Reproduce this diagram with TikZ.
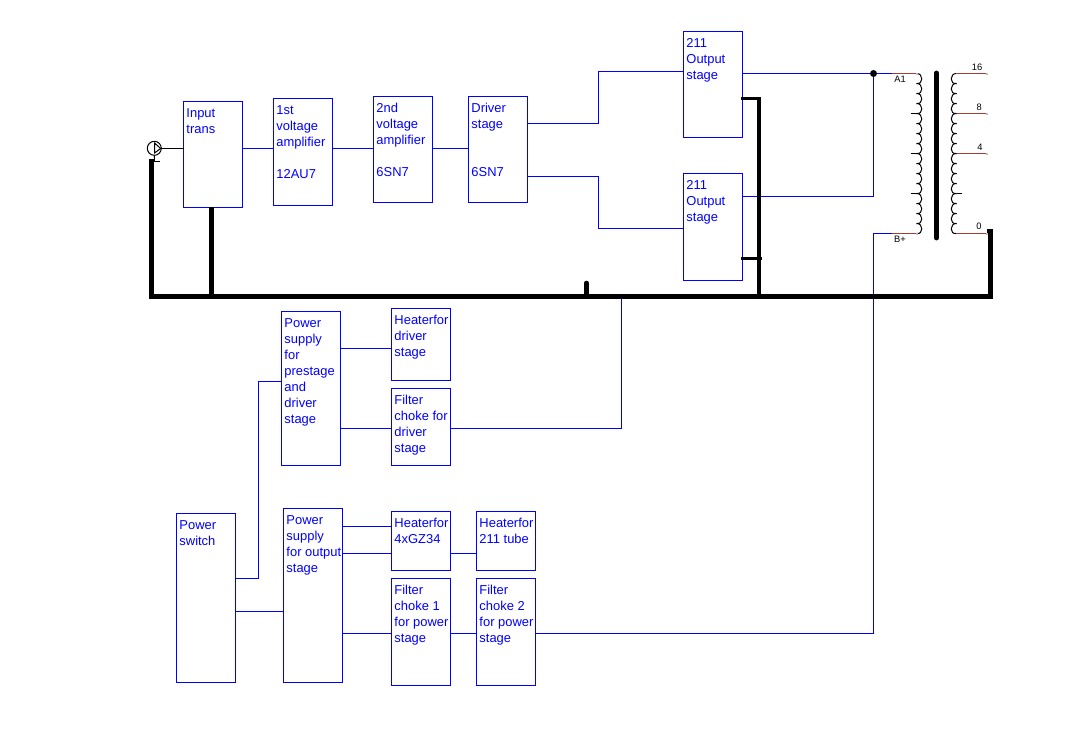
\documentclass[tikz,border=0pt]{standalone}
\usepackage{fontspec}
\setmainfont{Liberation Sans}
\usetikzlibrary{calc}
\definecolor{wireblue}{RGB}{0,0,255}
\definecolor{leadred}{RGB}{170,60,50}
\tikzset{
  x=0.75pt,y=-0.75pt,
  blk/.style={draw=wireblue,line width=0.75pt,fill=none,inner sep=0pt,outer sep=0pt,anchor=north west},
  txt/.style={text=wireblue,inner sep=0pt,anchor=north west,align=left,font=\fontsize{9.7}{12}\selectfont},
  sigline/.style={color=wireblue,line width=1pt},
  bus/.style={color=black,line width=3.4pt},
  branch/.style={color=black,line width=2.6pt},
  thinblk/.style={color=black,line width=0.75pt},
  redlead/.style={color=leadred,line width=1pt},
  small/.style={inner sep=0pt,font=\fontsize{7}{8}\selectfont,text=black},
}
\newcommand{\blockat}[6]{% name, x1, y1, x2, y2, text
  \pgfmathsetmacro{\bw}{(#4-#2+1)*0.75}\pgfmathsetmacro{\bh}{(#5-#3)*0.75}
  \node[blk,minimum width=\bw pt,minimum height=\bh pt] (#1) at (#2-0.5,#3+0.5) {};
  \node[txt] (#1-t) at (#2+2.2,#3+7) {#6};
}
\begin{document}
\begin{tikzpicture}
\useasboundingbox (0,0) rectangle (1088,736);
\fill[white] (0,0) rectangle (1088,736);
% blocks
\blockat{in}{184}{101}{242}{207}{Input\\trans}
\blockat{va}{274}{98}{332}{205}{1st\\voltage\\amplifier\\\\12AU7}
\blockat{vb}{374}{96}{432}{202}{2nd\\voltage\\amplifier\\\\6SN7}
\blockat{dr}{469}{96}{527}{202}{Driver\\stage\\\\\\6SN7}
\blockat{ot}{684}{31}{742}{137}{211\\Output\\stage}
\blockat{ob}{684}{173}{742}{280}{211\\Output\\stage}
\blockat{pp}{282}{311}{340}{465}{Power\\supply\\for\\prestage\\and\\driver\\stage}
\blockat{hd}{392}{308}{450}{380}{Heaterfor\\driver\\stage}
\blockat{fd}{392}{388}{450}{465}{Filter\\choke for\\driver\\stage}
\blockat{sw}{177}{513}{235}{682}{Power\\switch}
\blockat{po}{284}{508}{342}{682}{Power\\supply\\for output\\stage}
\blockat{hg}{392}{511}{450}{570}{Heaterfor\\4xGZ34}
\blockat{ht}{477}{511}{535}{570}{Heaterfor\\211 tube}
\blockat{fa}{392}{578}{450}{685}{Filter\\choke 1\\for power\\stage}
\blockat{fb}{477}{578}{535}{685}{Filter\\choke 2\\for power\\stage}
% transformer reference points
\coordinate (a1) at (916.5,73.5);
\coordinate (bp) at (916.5,233.5);
\coordinate (s16) at (956.5,73.5);
\coordinate (s8) at (956.5,113.5);
\coordinate (s4) at (956.5,153.5);
\coordinate (s0) at (956.5,233.5);
\coordinate (t16) at (986.5,73.5);
\coordinate (t8) at (986.5,113.5);
\coordinate (t4) at (986.5,153.5);
\coordinate (t0) at (986.5,233.5);
\coordinate (a1w) at (892,73.5);
\coordinate (bpw) at (892,233.5);
\coordinate (jn) at (873.5,73.5);
% signal wires
\draw[sigline] (in.east |- 0,148.5) -- (va.west |- 0,148.5);
\draw[sigline] (va.east |- 0,148.5) -- (vb.west |- 0,148.5);
\draw[sigline] (vb.east |- 0,148.5) -- (dr.west |- 0,148.5);
\draw[sigline] (dr.east |- 0,123.5) -| (598.5,71.5) -- (ot.west |- 0,71.5);
\draw[sigline] (dr.east |- 0,176.5) -| (598.5,228.5) -- (ob.west |- 0,228.5);
\draw[sigline] (ot.east |- 0,73.5) -- (a1w);
\draw[sigline] (ob.east |- 0,196.5) -| (jn);
\draw[sigline] (fb.east |- 0,633.5) -| (873.5,233.5) -- (bpw);
\fill (jn) circle (2.6pt);
% supply wires
\draw[sigline] (pp.east |- 0,348.5) -- (hd.west |- 0,348.5);
\draw[sigline] (pp.east |- 0,428.5) -- (fd.west |- 0,428.5);
\coordinate (busd) at (621.5,296);
\draw[sigline] (fd.east |- 0,428.5) -| (busd);
\draw[sigline] (sw.east |- 0,578.5) -| (258.5,381.5) -- (pp.west |- 0,381.5);
\draw[sigline] (sw.east |- 0,611.5) -- (po.west |- 0,611.5);
\draw[sigline] (po.east |- 0,526.5) -- (hg.west |- 0,526.5);
\draw[sigline] (po.east |- 0,553.5) -- (hg.west |- 0,553.5);
\draw[sigline] (hg.east |- 0,553.5) -- (ht.west |- 0,553.5);
\draw[sigline] (po.east |- 0,633.5) -- (fa.west |- 0,633.5);
\draw[sigline] (fa.east |- 0,633.5) -- (fb.west |- 0,633.5);
% ground bus
\coordinate (gl) at (149,296.5);
\coordinate (gr) at (993,296.5);
\draw[bus] (gl) -- (gr);
\draw[bus] (151.5,159) -- (151.5,298);
\draw[bus] (211.3,207) -- (211.3,296);
\draw[bus,line cap=round] (586.5,283) -- (586.5,296);
\draw[bus] (758.8,299) -- (758.8,96.8);
\draw[branch] (741,98.3) -- (761,98.3);
\draw[branch] (741,258.3) -- (761.7,258.3);
\draw[bus] (990.7,231) -- (990.7,298);
\fill[black] (987,229) rectangle (993,233);
% input jack
\node[circle,draw=black,line width=0.75pt,minimum size=10.5pt,inner sep=0pt,outer sep=0pt,fill=white] (jack) at (154.3,148.3) {};
\draw[thinblk] (154.5,143) -- (160.7,148.5) -- (154.5,153) -- cycle;
\draw[thinblk] (160.7,148.5) -- (in.west |- 0,148.5);
\draw[thinblk] (jack.south) -- (154.5,161.5);
\draw[thinblk] (151,161.5) -- (160,161.5);
% transformer windings
\foreach \i in {0,...,15}{
  \pgfmathsetmacro{\ya}{73.5+10*\i}\pgfmathsetmacro{\yb}{83.5+10*\i}
  \draw[thinblk] (916.5,\ya) .. controls (923.5,\ya-0.5) and (923.5,\yb+1.5) .. (916.5,\yb);
  \draw[thinblk] (956.5,\ya) .. controls (949.5,\ya-0.5) and (949.5,\yb+1.5) .. (956.5,\yb);
}
\draw[thinblk] (911,113.5) -- (916.5,113.5);
\draw[thinblk] (911,153.5) -- (916.5,153.5);
\draw[thinblk] (911,193.5) -- (916.5,193.5);
\draw[thinblk] (956.5,193.5) -- (961.5,193.5);
\draw[black,line width=3.6pt,line cap=round] (936.3,73) -- (936.3,238);
\draw[redlead] (a1w) -- (a1);
\draw[redlead] (bpw) -- (bp);
\draw[redlead] (s16) -- (t16);
\draw[redlead] (s8) -- (t8);
\draw[redlead] (s4) -- (t4);
\draw[redlead] (s0) -- (t0);
\foreach \c in {a1,bp,t16,t8,t4,t0}{\fill[black!25] ($(\c)+(-1,-1)$) rectangle ($(\c)+(1,1)$);}
\node[small] (la1) at (900,79) {A1};
\node[small] (lbp) at (900,239) {B+};
\node[small] (l16) at (977,67) {16};
\node[small] (l8) at (979.3,107) {8};
\node[small] (l4) at (980,147) {4};
\node[small] (l0) at (979,226.5) {0};
\end{tikzpicture}
\end{document}
